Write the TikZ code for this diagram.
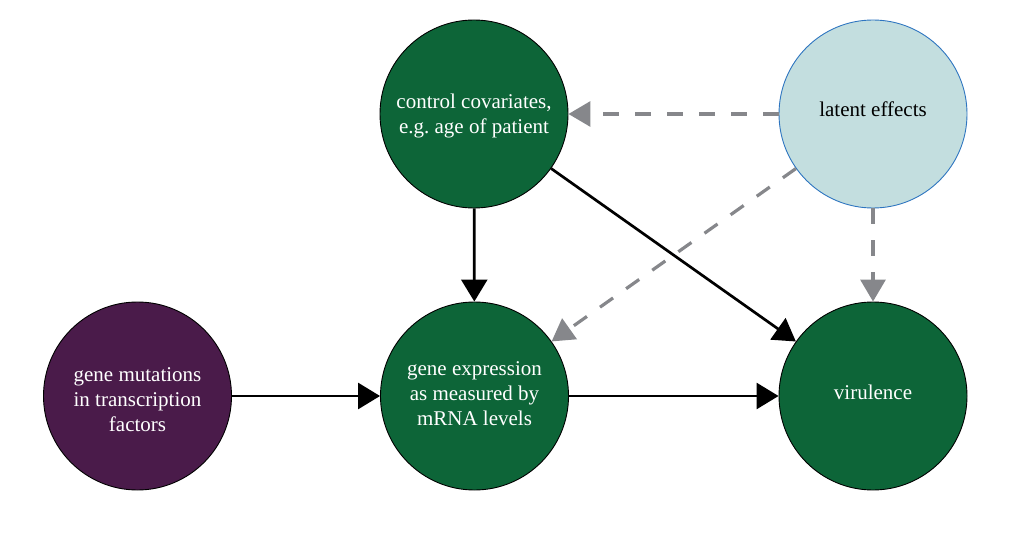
\documentclass[tikz,border=0pt]{standalone}
\usepackage{fontspec}
\setmainfont{Liberation Serif}
\newfontfamily\diagfont{Liberation Serif}
\usetikzlibrary{arrows.meta}
\frenchspacing
\definecolor{dgreen}{HTML}{0D6538}
\definecolor{dpurple}{HTML}{4A1B4A}
\definecolor{lblue}{HTML}{C3DEDF}
\definecolor{bblue}{HTML}{2E75C0}
\definecolor{dgray}{HTML}{86878B}
\newcommand\ntext[2]{\raisebox{#1}[0pt][0pt]{\begin{tabular}[t]{@{}c@{}}#2\end{tabular}}}
\tikzset{
  var/.style={circle, minimum size=188pt, inner sep=0pt, draw=black, line width=0.9pt,
    text=white, font=\diagfont\frenchspacing\fontsize{21}{25}\selectfont},
  greennode/.style={var, fill=dgreen},
  purplenode/.style={var, fill=dpurple},
  latentnode/.style={var, fill=lblue, draw=bblue, text=black},
  causal/.style={line width=2.7pt, draw=black, -{Triangle[length=22pt,width=26pt]}},
  latentarrow/.style={line width=3.2pt, draw=dgray, dash pattern=on 16pt off 16pt,
    -{Triangle[length=22pt,width=25pt]}},
}
\begin{document}
\begin{tikzpicture}[x=1pt,y=-1pt]
\useasboundingbox (0,0) rectangle (1016,534);
\node[greennode] (ctrl) at (474,114) {\ntext{5.7pt}{control covariates,\\e.g.\ age of patient}};
\node[latentnode] (lat) at (873,114) {\ntext{-2.7pt}{latent effects}};
\node[purplenode] (mut) at (137.5,396) {\ntext{15pt}{gene mutations\\in transcription\\factors}};
\node[greennode] (expr) at (474.5,396) {\ntext{21pt}{gene expression\\as measured by\\mRNA levels}};
\node[greennode] (vir) at (873,396) {\ntext{-3.3pt}{virulence}};
\draw[causal] (mut) -- (expr);
\draw[causal] (ctrl) -- (expr);
\draw[causal] (expr) -- (vir);
\draw[causal] (ctrl) -- (vir);
\draw[latentarrow] (lat) -- (ctrl);
\draw[latentarrow] (lat) -- (expr);
\draw[latentarrow] (lat) -- (vir);
\end{tikzpicture}
\end{document}
